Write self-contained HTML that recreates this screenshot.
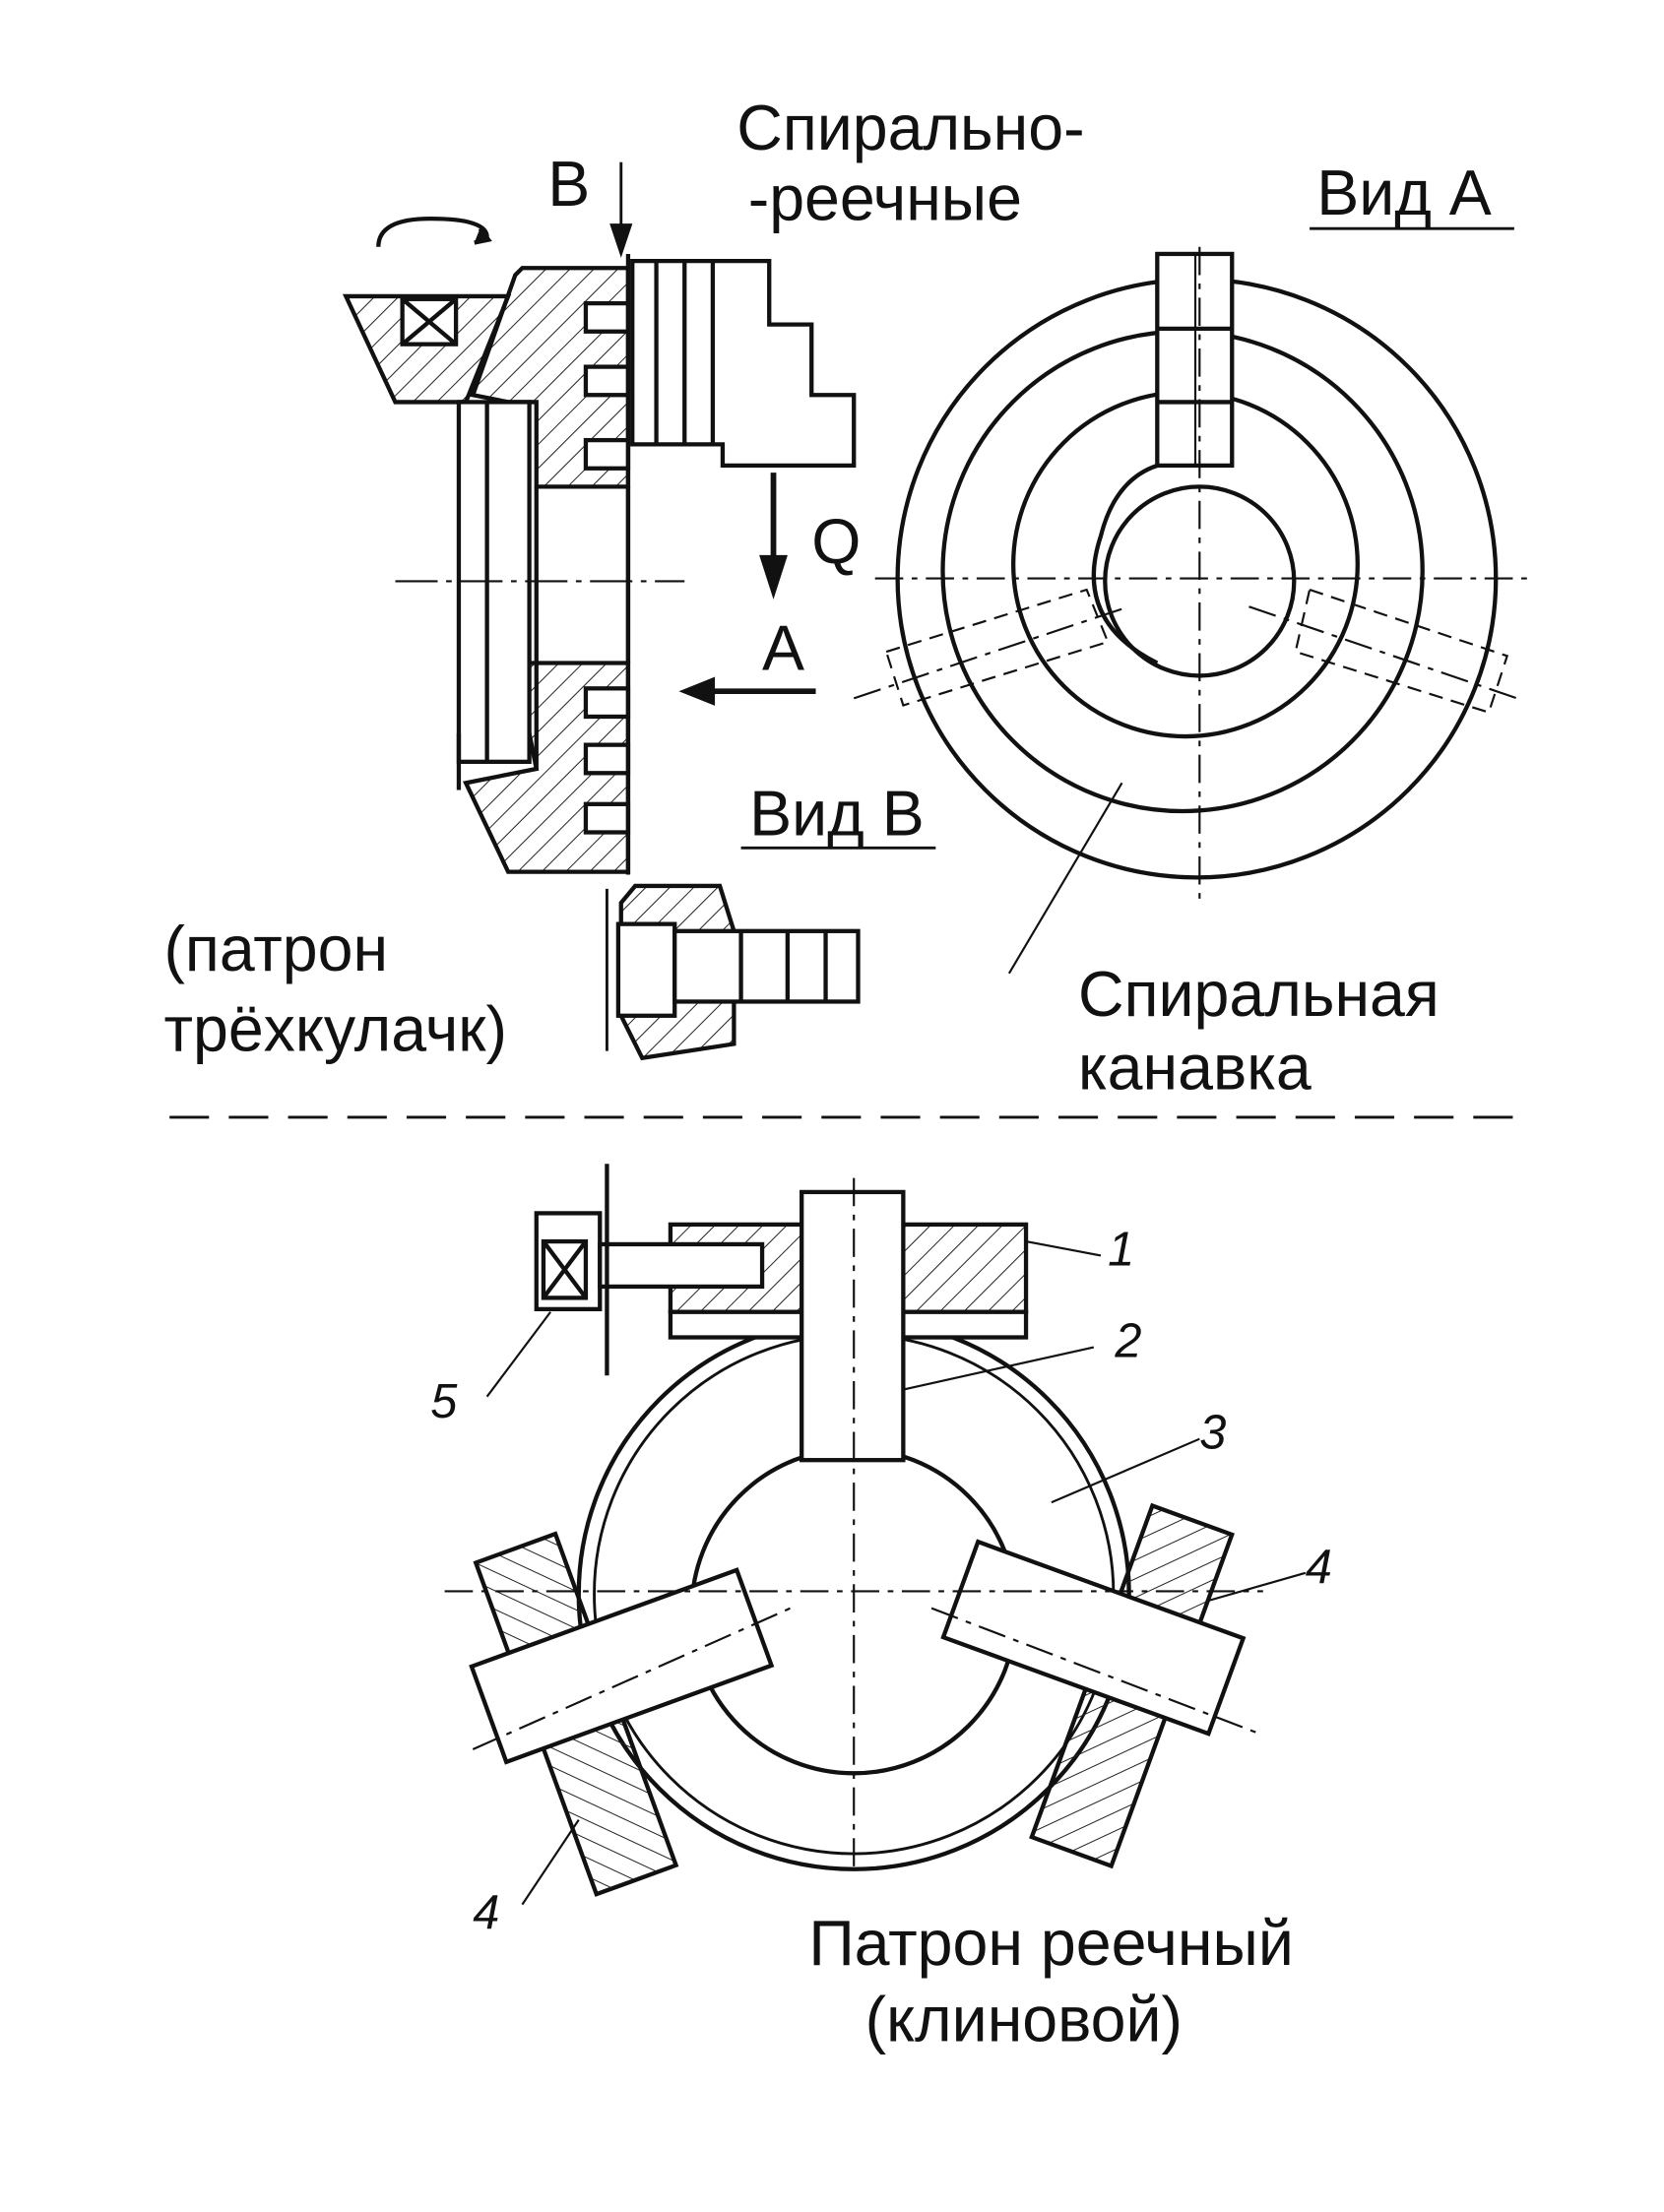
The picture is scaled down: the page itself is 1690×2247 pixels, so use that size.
<!DOCTYPE html>
<html><head><meta charset="utf-8"><style>
html,body{margin:0;padding:0;background:#fff}
svg{display:block}
text{font-family:"Liberation Sans","DejaVu Sans",sans-serif;fill:#111}
</style></head><body>
<svg width="1690" height="2247" viewBox="0 0 1179 1568" xmlns="http://www.w3.org/2000/svg">
<defs>
<pattern id="h" width="12" height="12" patternUnits="userSpaceOnUse" patternTransform="rotate(45)">
<line x1="0" y1="0" x2="0" y2="12" stroke="#222" stroke-width="1.4"/></pattern>
<pattern id="h2" width="12" height="12" patternUnits="userSpaceOnUse" patternTransform="rotate(-45)">
<line x1="0" y1="0" x2="0" y2="12" stroke="#222" stroke-width="1.4"/></pattern>
</defs>
<rect width="1179" height="1568" fill="#fff"/>
<g stroke="#111" stroke-width="3" fill="none">
<polygon points="370,190 445,190 445,345 380,345 380,285 360,285 335,280 365,195" fill="url(#h)"/>
<polygon points="365,470 445,470 445,618 360,618 330,555 380,545" fill="url(#h)"/>
<rect x="415" y="215" width="30" height="20" fill="#fff"/>
<rect x="415" y="260" width="30" height="20" fill="#fff"/>
<rect x="415" y="312" width="30" height="20" fill="#fff"/>
<rect x="415" y="488" width="30" height="20" fill="#fff"/>
<rect x="415" y="528" width="30" height="20" fill="#fff"/>
<rect x="415" y="570" width="30" height="20" fill="#fff"/>
<line x1="380" y1="345" x2="380" y2="545"/>
<line x1="445" y1="345" x2="445" y2="470"/>
<line x1="445" y1="180" x2="445" y2="620"/>
<polygon points="245,210 360,210 330,285 280,285" fill="url(#h)"/>
<rect x="285" y="212" width="38" height="32" fill="#fff"/>
<line x1="285" y1="212" x2="323" y2="244"/><line x1="323" y1="212" x2="285" y2="244"/>
<rect x="325" y="285" width="50" height="255" fill="#fff"/>
<line x1="345" y1="285" x2="345" y2="540"/>
<line x1="325" y1="520" x2="325" y2="560"/>
<path d="M268,175 Q268,155 305,155 Q345,155 345,168" />
<path d="M340,162 l6,8 l-10,2" fill="#111"/>
<polygon points="448,185 545,185 545,230 575,230 575,280 605,280 605,330 512,330 512,315 448,315"/>
<line x1="465" y1="185" x2="465" y2="315"/><line x1="485" y1="185" x2="485" y2="315"/><line x1="505" y1="185" x2="505" y2="315"/>
<line x1="440" y1="115" x2="440" y2="175" stroke-width="2"/>
<path d="M434,160 l6,18 l6,-18z" fill="#111"/>
<line x1="548" y1="335" x2="548" y2="400" stroke-width="4"/>
<path d="M540,395 l8,25 l8,-25z" fill="#111"/>
<line x1="500" y1="490" x2="578" y2="490" stroke-width="4"/>
<path d="M505,482 l-20,8 l20,8z" fill="#111"/>
<line x1="280" y1="412" x2="485" y2="412" stroke-width="1.5" stroke-dasharray="30,6,4,6"/>
<polygon points="450,628 510,628 520,660 520,740 455,750 440,720 440,640" fill="url(#h)"/>
<rect x="438" y="655" width="40" height="65" fill="#fff"/>
<rect x="478" y="660" width="130" height="50" fill="#fff"/>
<line x1="525" y1="660" x2="525" y2="710"/><line x1="558" y1="660" x2="558" y2="710"/><line x1="585" y1="660" x2="585" y2="710"/>
<line x1="430" y1="630" x2="430" y2="745" stroke-width="2"/>
<circle cx="848" cy="410" r="212"/>
<circle cx="838" cy="405" r="170"/>
<circle cx="840" cy="400" r="122"/>
<circle cx="850" cy="412" r="67"/>
<path d="M820,470 Q760,440 780,380 Q790,340 820,330"/>
<rect x="820" y="180" width="53" height="150" fill="#fff"/>
<line x1="820" y1="233" x2="873" y2="233"/><line x1="820" y1="285" x2="873" y2="285"/>
<line x1="847" y1="180" x2="847" y2="330" stroke-width="1.5"/>
<g stroke-width="1.5" stroke-dasharray="20,6,4,6">
<line x1="620" y1="410" x2="1085" y2="410"/>
<line x1="850" y1="175" x2="850" y2="640"/>
<line x1="605" y1="495" x2="800" y2="430"/>
<line x1="885" y1="430" x2="1075" y2="495"/>
</g>
<g stroke-width="1.5" stroke-dasharray="10,6">
<polygon points="628,462 770,418 785,455 640,500"/>
<polygon points="928,418 1068,465 1055,505 918,462"/>
</g>
<line x1="795" y1="555" x2="715" y2="690" stroke-width="1.5"/>
<line x1="120" y1="792" x2="1085" y2="792" stroke-width="2" stroke-dasharray="28,14"/>
<!-- bottom chuck -->
<circle cx="605" cy="1130" r="195"/>
<circle cx="605" cy="1130" r="184" stroke-width="2"/>
<circle cx="605" cy="1142" r="115"/>
<rect x="475" y="868" width="252" height="62" fill="url(#h)"/>
<rect x="475" y="930" width="252" height="18" fill="#fff"/>
<rect x="380" y="860" width="45" height="68" fill="#fff"/>
<rect x="385" y="880" width="30" height="40" fill="#fff"/>
<line x1="385" y1="880" x2="415" y2="920"/><line x1="415" y1="880" x2="385" y2="920"/>
<rect x="425" y="882" width="115" height="30" fill="#fff"/>
<line x1="430" y1="825" x2="430" y2="975" stroke-width="3"/>
<rect x="568" y="845" width="72" height="190" fill="#fff"/>
<g transform="rotate(-20 408 1215)">
<rect x="378" y="1090" width="60" height="250" fill="url(#h2)"/>
</g>
<g transform="rotate(-20 440 1180)">
<rect x="340" y="1145" width="200" height="72" fill="#fff"/>
</g>
<g transform="rotate(20 802 1195)">
<rect x="772" y="1070" width="60" height="250" fill="url(#h)"/>
</g>
<g transform="rotate(20 775 1160)">
<rect x="675" y="1125" width="200" height="72" fill="#fff"/>
</g>
<g stroke-width="1.5" stroke-dasharray="20,6,4,6">
<line x1="315" y1="1128" x2="895" y2="1128"/>
<line x1="605" y1="835" x2="605" y2="1325"/>
<line x1="335" y1="1240" x2="560" y2="1140"/>
<line x1="660" y1="1140" x2="890" y2="1228"/>
</g>
<g stroke-width="1.5">
<line x1="727" y1="880" x2="780" y2="890"/>
<line x1="640" y1="985" x2="775" y2="955"/>
<line x1="745" y1="1065" x2="850" y2="1020"/>
<line x1="855" y1="1135" x2="925" y2="1115"/>
<line x1="410" y1="1290" x2="370" y2="1350"/>
<line x1="390" y1="930" x2="345" y2="990"/>
</g>
</g>
<g font-size="45">
<text x="522" y="106">Спирально-</text>
<text x="530" y="156">-реечные</text>
<text x="388" y="146">В</text>
<text x="933" y="152">Вид А</text>
<text x="575" y="399">Q</text>
<text x="540" y="475">A</text>
<text x="531" y="592">Вид В</text>
<text x="116" y="688">(патрон</text>
<text x="116" y="745">трёхкулачк)</text>
<text x="764" y="720">Спиральная</text>
<text x="764" y="772">канавка</text>
<text x="573" y="1393">Патрон реечный</text>
<text x="613" y="1447">(клиновой)</text>
</g>
<g font-size="34" font-style="italic">
<text x="785" y="897">1</text><text x="790" y="962">2</text><text x="850" y="1027">3</text>
<text x="925" y="1122">4</text><text x="335" y="1367">4</text><text x="305" y="1005">5</text>
</g>
<g stroke="#111" stroke-width="2">
<line x1="928" y1="162" x2="1073" y2="162"/>
<line x1="525" y1="601" x2="663" y2="601"/>
</g>
</svg>
</body></html>
